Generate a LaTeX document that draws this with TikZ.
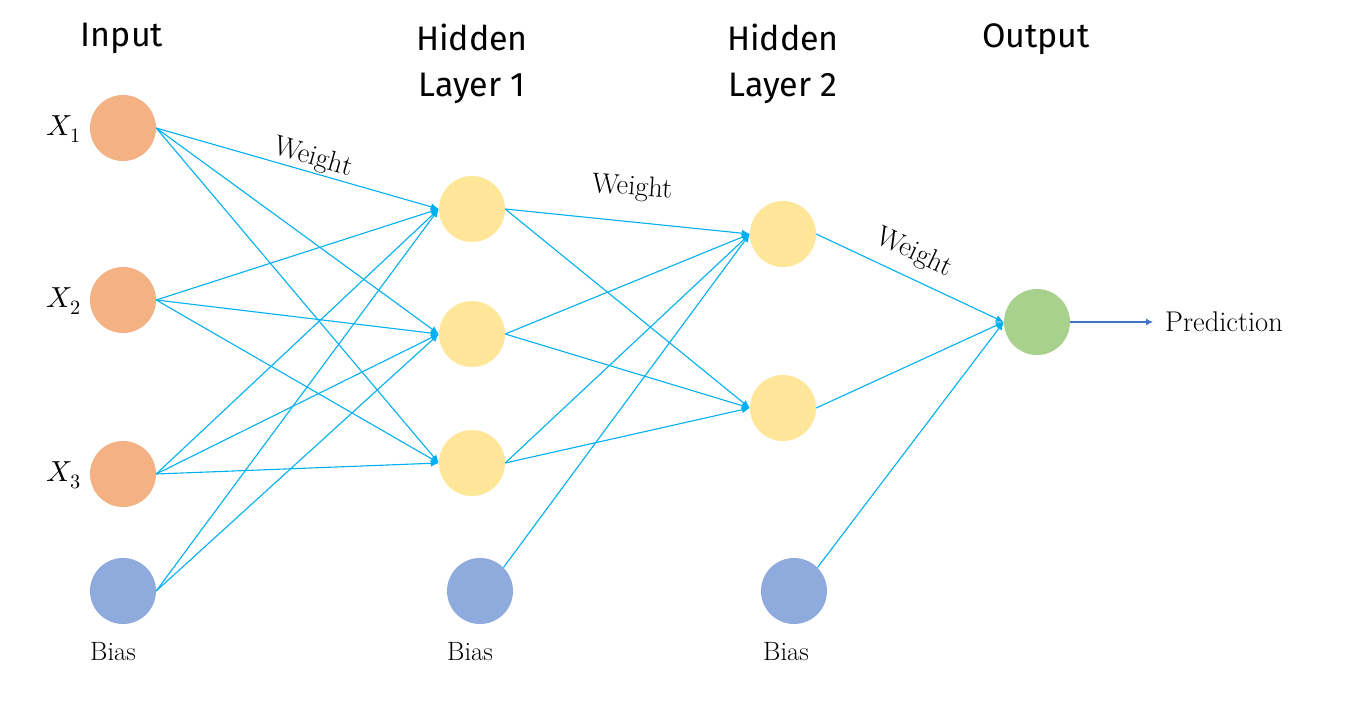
\documentclass[tikz,border=0pt]{standalone}
\usepackage{fontspec}
\usepackage{unicode-math}
\newfontfamily\titlefont{Fira Sans}
\usetikzlibrary{arrows.meta}
\definecolor{inorange}{HTML}{F4B183}
\definecolor{hidyellow}{HTML}{FFE699}
\definecolor{biasblue}{HTML}{8FAADC}
\definecolor{outgreen}{HTML}{A9D18E}
\definecolor{linecyan}{HTML}{00B0F0}
\definecolor{predblue}{HTML}{4472C4}
\begin{document}
\begin{tikzpicture}[x=1pt,y=-1pt,
  neuron/.style={circle,minimum size=66pt,inner sep=0pt},
  conn/.style={draw=linecyan,line width=1.1pt,-{Latex[length=8pt,width=7pt]}},
  title/.style={font=\titlefont\fontsize{34}{46}\selectfont,align=center,inner sep=0pt},
  serif/.style={font=\fontsize{26.5}{30}\selectfont,inner sep=0pt},
  wlabel/.style={font=\fontsize{28.5}{32}\selectfont,inner sep=0pt}]
\useasboundingbox (0,0) rectangle (1349,719);
\fill[white] (0,0) rectangle (1349,719);

% titles
\node[title] (tin) at (122,38) {Input};
\node[title] (th1) at (472,64) {Hidden\\Layer 1};
\node[title] (th2) at (783,64) {Hidden\\Layer 2};
\node[title] (tout) at (1036,39) {Output};

% input layer
\node[neuron,fill=inorange] (x1) at (123,128) {};
\node[neuron,fill=inorange] (x2) at (123,300) {};
\node[neuron,fill=inorange] (x3) at (123,474) {};
\node[neuron,fill=biasblue] (b1) at (123,591) {};
% hidden 1
\node[neuron,fill=hidyellow] (h11) at (472,209) {};
\node[neuron,fill=hidyellow] (h12) at (472,334) {};
\node[neuron,fill=hidyellow] (h13) at (472,463) {};
\node[neuron,fill=biasblue] (b2) at (480,591) {};
% hidden 2
\node[neuron,fill=hidyellow] (h21) at (783,234) {};
\node[neuron,fill=hidyellow] (h22) at (783,408) {};
\node[neuron,fill=biasblue] (b3) at (794,591) {};
% output
\node[neuron,fill=outgreen] (out) at (1037,322) {};

% labels
\node[inner sep=0pt,font=\fontsize{29}{34}\selectfont] (lx1) at (64,129) {$X_1$};
\node[inner sep=0pt,font=\fontsize{29}{34}\selectfont] (lx2) at (64,301) {$X_2$};
\node[inner sep=0pt,font=\fontsize{29}{34}\selectfont] (lx3) at (64,475) {$X_3$};
\node[serif] (lb1) at (113,652) {Bias};
\node[serif] (lb2) at (470,652) {Bias};
\node[serif] (lb3) at (786,652) {Bias};
\node[wlabel,anchor=west,inner xsep=12pt] (pred) at (1153,322) {Prediction};

% connections input -> hidden 1
\foreach \s in {x1,x2,x3}{
  \foreach \t in {h11,h12,h13}{
    \draw[conn] (\s.east) -- (\t.west);
  }
}
\draw[conn] (b1.east) -- (h11.west);
\draw[conn] (b1.east) -- (h12.west);
% hidden 1 -> hidden 2
\foreach \s in {h11,h12,h13}{
  \foreach \t in {h21,h22}{
    \draw[conn] (\s.east) -- (\t.west);
  }
}
\draw[conn] (b2.north east) -- (h21.west);
% hidden 2 -> output
\draw[conn] (h21.east) -- (out.west);
\draw[conn] (h22.east) -- (out.west);
\draw[conn] (b3.north east) -- (out.west);
% prediction
\draw[draw=predblue,line width=1.1pt,-{Latex[length=7pt,width=7pt]}] (out.east) -- (pred.west);

% weight labels
\node[wlabel,rotate=-16] (w1) at (313,158) {Weight};
\node[wlabel,rotate=-4] (w2) at (632,188) {Weight};
\node[wlabel,rotate=-25] (w3) at (914,253) {Weight};
\end{tikzpicture}
\end{document}
